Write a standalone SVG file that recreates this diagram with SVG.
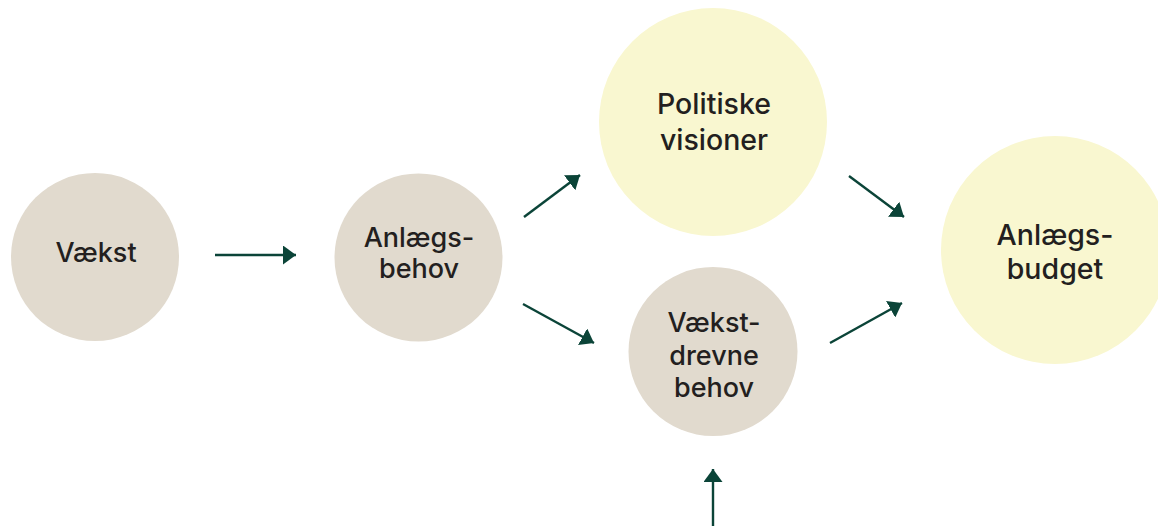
<svg xmlns="http://www.w3.org/2000/svg" width="1158" height="526" viewBox="0 0 1158 526">
<style>
.beige{fill:#e1dace}
.yellow{fill:#f9f7d0}
.lbl{font-family:Inter,"Liberation Sans",sans-serif;font-weight:500;fill:#231f20;text-anchor:middle}
.s{font-size:27px}
.b{font-size:28.5px}
.conn line{stroke:#0b4438;stroke-width:2.4;marker-end:url(#ah)}
</style>
<defs>
<marker id="ah" viewBox="0 0 13 19" refX="13" refY="9.5" markerWidth="13" markerHeight="19" markerUnits="userSpaceOnUse" orient="auto">
<path d="M0,0 L13,9.5 L0,19 Z" fill="#0b4438"/>
</marker>
</defs>
<rect width="1158" height="526" fill="#ffffff"/>
<g id="vaekst">
<circle class="beige" cx="95" cy="257" r="84"/>
<text class="lbl s" x="96" y="262">Vækst</text>
</g>
<g id="anlaegsbehov">
<circle class="beige" cx="418.5" cy="257.5" r="84"/>
<text class="lbl s" x="419" y="247">Anlægs-</text>
<text class="lbl s" x="419" y="278">behov</text>
</g>
<g id="politiske">
<circle class="yellow" cx="713" cy="122" r="114"/>
<text class="lbl b" x="714" y="114">Politiske</text>
<text class="lbl b" x="714" y="150">visioner</text>
</g>
<g id="vaekstdrevne">
<circle class="beige" cx="713" cy="351.5" r="84.5"/>
<text class="lbl s" x="714" y="332">Vækst-</text>
<text class="lbl s" x="714" y="365">drevne</text>
<text class="lbl s" x="714" y="397">behov</text>
</g>
<g id="anlaegsbudget">
<circle class="yellow" cx="1055" cy="250" r="114"/>
<text class="lbl b" x="1055" y="245">Anlægs-</text>
<text class="lbl b" x="1055" y="279">budget</text>
</g>
<g id="connectors" class="conn">
<line x1="215" y1="255" x2="296" y2="255"/>
<line x1="524" y1="217" x2="580" y2="175"/>
<line x1="523" y1="304" x2="594" y2="343"/>
<line x1="849" y1="176" x2="904" y2="217"/>
<line x1="830" y1="343" x2="902" y2="303"/>
<line x1="713" y1="526" x2="713" y2="469"/>
</g>
</svg>
